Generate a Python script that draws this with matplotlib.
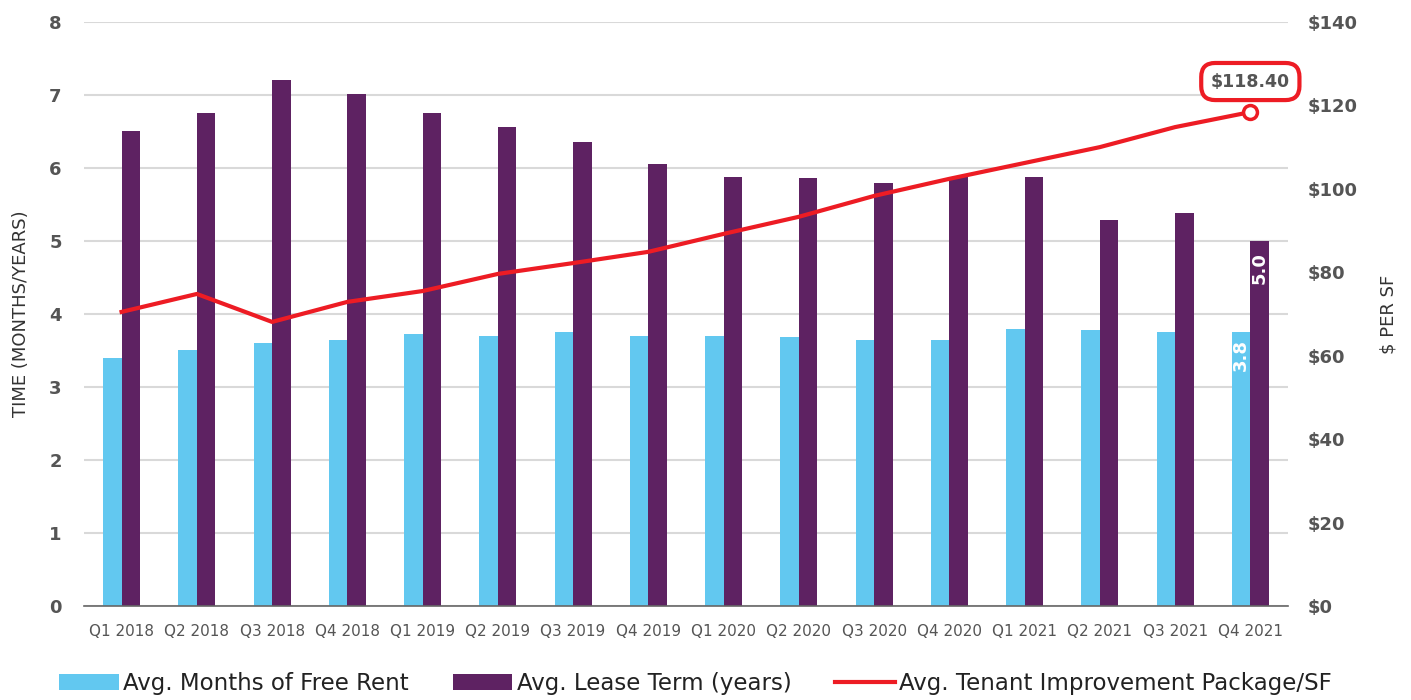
import matplotlib
matplotlib.use('Agg')
import matplotlib.pyplot as plt
import numpy as np
from matplotlib.patches import Patch
from matplotlib.lines import Line2D

plt.rcParams['font.family'] = ['DejaVu Sans']

quarters = ['Q1 2018', 'Q2 2018', 'Q3 2018', 'Q4 2018',
            'Q1 2019', 'Q2 2019', 'Q3 2019', 'Q4 2019',
            'Q1 2020', 'Q2 2020', 'Q3 2020', 'Q4 2020',
            'Q1 2021', 'Q2 2021', 'Q3 2021', 'Q4 2021']
free_rent = [3.4, 3.5, 3.6, 3.65, 3.72, 3.7, 3.75, 3.7,
             3.7, 3.68, 3.65, 3.65, 3.8, 3.78, 3.76, 3.76]
lease_term = [6.5, 6.75, 7.2, 7.02, 6.75, 6.56, 6.35, 6.05,
              5.87, 5.86, 5.79, 5.88, 5.88, 5.29, 5.39, 5.0]
ti_package = [70.5, 74.8, 68.1, 72.9, 75.5, 79.6, 82.2, 84.9,
              89.2, 93.3, 98.3, 102.4, 106.2, 110.0, 114.8, 118.4]
left_ticks = [0, 1, 2, 3, 4, 5, 6, 7, 8]
right_ticks = [0, 20, 40, 60, 80, 100, 120, 140]

BLUE = '#62C8F0'
PURPLE = '#5E2262'
RED = '#ED1C24'
GRAY = '#555555'

fig = plt.figure(figsize=(14.11, 7.0), dpi=100)
ax = fig.add_axes([0.0595, 0.1343, 0.8533, 0.8343])
ax2 = ax.twinx()

x = np.arange(len(quarters))
w = 0.245
ax.bar(x - w / 2, free_rent, width=w, color=BLUE, zorder=2)
ax.bar(x + w / 2, lease_term, width=w, color=PURPLE, zorder=2)

ax.set_xlim(-0.5, len(quarters) - 0.5)
ax.set_ylim(0, 8)
ax.set_yticks(left_ticks)
ax.set_yticklabels([str(t) for t in left_ticks], fontsize=13, fontweight='bold', color=GRAY)
ax.set_xticks(x)
ax.set_xticklabels(quarters, fontsize=11, color=GRAY)
ax.tick_params(axis='both', length=0)
ax.tick_params(axis='x', pad=13)
ax.tick_params(axis='y', pad=16)
ax.grid(axis='y', color='#d9d9d9', linewidth=1.5, zorder=0)
ax.set_axisbelow(True)
for s in ['top', 'right', 'left']:
    ax.spines[s].set_visible(False)
ax.spines['bottom'].set_color('#666666')
ax.spines['bottom'].set_linewidth(1.2)
ax.set_ylabel('TIME (MONTHS/YEARS)', fontsize=13, color='#333333', labelpad=14)

ax2.plot(x, ti_package, color=RED, linewidth=3, zorder=3)
ax2.plot(x[-1], ti_package[-1], 'o', markersize=10, markerfacecolor='white',
         markeredgecolor=RED, markeredgewidth=2.5, zorder=4)
ax2.set_ylim(0, 140)
ax2.set_yticks(right_ticks)
ax2.set_yticklabels(['$' + str(t) for t in right_ticks], fontsize=13,
                    fontweight='bold', color=GRAY)
ax2.tick_params(axis='y', length=0, pad=14)
for s in ax2.spines.values():
    s.set_visible(False)
ax2.set_ylabel('$ PER SF', fontsize=13, color='#333333', labelpad=16)

# callout for the last TI value
ax2.annotate('$%.2f' % ti_package[-1], xy=(x[-1], ti_package[-1]),
             xytext=(0, 22), textcoords='offset points', ha='center', va='center',
             fontsize=12.5, fontweight='bold', color=GRAY,
             bbox=dict(boxstyle='round,pad=0.55,rounding_size=0.8',
                       facecolor='white', edgecolor=RED, linewidth=3))

# value labels inside the last bars
ax.text(x[-1] - w / 2, free_rent[-1] - 0.1, '%.1f' % free_rent[-1], rotation=90,
        ha='center', va='top', color='white', fontsize=13, fontweight='bold', zorder=5)
ax.text(x[-1] + w / 2, lease_term[-1] - 0.15, '%.1f' % lease_term[-1], rotation=90,
        ha='center', va='top', color='white', fontsize=13, fontweight='bold', zorder=5)

handles = [Patch(facecolor=BLUE), Patch(facecolor=PURPLE),
           Line2D([0], [0], color=RED, linewidth=3)]
labels = ['Avg. Months of Free Rent', 'Avg. Lease Term (years)',
          'Avg. Tenant Improvement Package/SF']
fig.legend(handles, labels, loc='lower center', bbox_to_anchor=(0.493, -0.022),
           ncol=3, frameon=False, fontsize=16.5, handlelength=2.6, handleheight=0.7,
           columnspacing=1.9, handletextpad=0.2, labelcolor='#222222')

fig.savefig('out.png', dpi=100)
